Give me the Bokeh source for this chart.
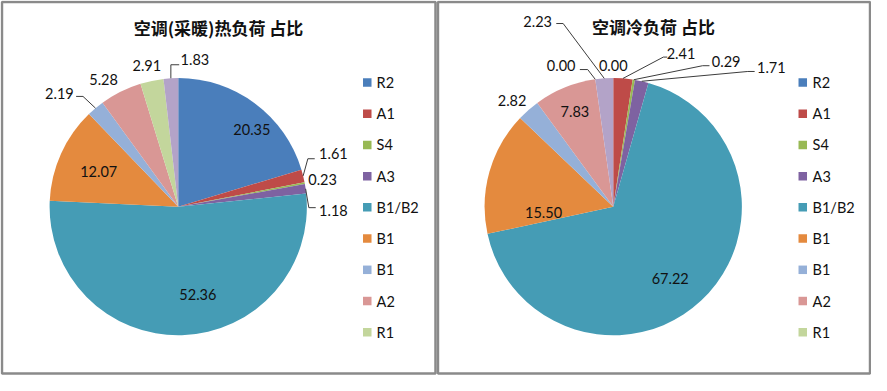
import math
from bokeh.plotting import figure
from bokeh.models import Range1d, ColumnDataSource
from bokeh.core.properties import value
from bokeh.embed import file_html
from bokeh.resources import INLINE

# ---------------- data ----------------
legend_labels = ["R2", "A1", "S4", "A3", "B1/B2", "B1", "B1", "A2", "R1"]
# ten slices each; the tenth slice is not listed in the (truncated) legend
heat_values = [20.35, 1.61, 0.23, 1.18, 52.36, 12.07, 2.19, 5.28, 2.91, 1.83]
cool_values = [0.00, 2.41, 0.29, 1.71, 67.22, 15.50, 2.82, 7.83, 0.00, 2.23]
heat_title = "空调(采暖)热负荷 占比"
cool_title = "空调冷负荷 占比"

# ---------------- styles / layout ----------------
colors = ["#4A7EBB", "#BE4B48", "#98B954", "#7E62A1", "#459CB5",
          "#E48A3E", "#95B0D8", "#D99795", "#C3D69C", "#B3A3C8"]
NUM_FONT = "Lato"
CJK_FONT = "Noto Sans CJK SC"
W, H = 887, 391          # reference picture size (data space)
PW, PH = 871, 375        # figure size in pixels
KY = (PW / W) / (PH / H)  # converts an x-length in data units to y data units


def Y(y):
    return H - y


# label centres and leader-line bend points (picture coordinates)
heat_layout = [
    ((256, 135), None),
    ((339, 160), [(313, 165), (320, 165)]),
    ((328, 187), None),
    ((339, 219), [(314, 216), (321, 216)]),
    ((201, 307), None),
    ((100, 178), None),
    ((60, 97), [(84, 100), (77, 100)]),
    ((105, 82), None),
    ((149, 68), None),
    ((198, 61), [(173.5, 67), (182, 67)]),
]
cool_layout = [
    ((624, 68), None),
    ((693, 55), [(675, 59), (679, 59)]),
    ((739, 64), [(715, 68), (722, 68)]),
    ((785, 70), [(761, 74), (768, 74)]),
    ((682, 290), None),
    ((553, 221), None),
    ((521, 104), None),
    ((585, 116), None),
    ((571, 68), [(598, 72), (590, 72)]),
    ((547, 22), [(573, 24), (566, 24)]),
]

p = figure(width=PW, height=PH, x_range=Range1d(0, W), y_range=Range1d(0, H),
           output_backend="svg", toolbar_location=None, min_border=0)
p.axis.visible = False
p.grid.visible = False
p.outline_line_color = None
p.background_fill_color = "white"
p.border_fill_color = "white"

# panel borders
border = "#8A8A8A"
p.quad(left=[1.5, 445.5], right=[443, 885.5], bottom=[Y(389), Y(389)], top=[Y(1.5), Y(1.5)],
       fill_color=None, line_color=border, line_width=2.5)


def draw_pie(vals, cx, cy, r, layout, title, tx, ty, lx_sq, lx_txt):
    total = sum(vals)
    starts, ends, cols = [], [], []
    mids = []
    cum = 0.0
    for i, v in enumerate(vals):
        a0 = math.pi / 2 - 2 * math.pi * cum / total
        cum += v
        a1 = math.pi / 2 - 2 * math.pi * cum / total
        mids.append((a0 + a1) / 2)
        if v > 0:
            starts.append(a0)
            ends.append(a1)
            cols.append(colors[i])
    src = ColumnDataSource(dict(start=starts, end=ends, color=cols))
    p.wedge(x=cx, y=Y(cy), radius=r, start_angle="start", end_angle="end",
            direction="clock", fill_color="color", line_color=None, source=src)

    # leader lines
    xs, ys = [], []
    for i, (pos, bends) in enumerate(layout):
        if bends is None:
            continue
        ex = cx + r * math.cos(mids[i])
        ey = Y(cy) + r * KY * math.sin(mids[i])
        xs.append([ex] + [b[0] for b in bends])
        ys.append([ey] + [Y(b[1]) for b in bends])
    if xs:
        p.multi_line(xs=xs, ys=ys, line_color="#3C3C3C", line_width=1)

    # data labels
    lsrc = ColumnDataSource(dict(
        x=[pos[0] for pos, _ in layout],
        y=[Y(pos[1]) for pos, _ in layout],
        t=[f"{v:.2f}" for v in vals]))
    p.text(x="x", y="y", text="t", source=lsrc, text_font=value(NUM_FONT),
           text_font_size="14.5px", text_align="center", text_baseline="middle",
           text_color="#111111")

    # title
    p.text(x=[tx], y=[Y(ty)], text=[title], text_font=value(CJK_FONT),
           text_font_size="17px", text_font_style="bold", text_align="center",
           text_baseline="middle", text_color="#111111")

    # legend
    n = len(legend_labels)
    ly = [Y(85.5 + k * 32.55) for k in range(n)]
    p.rect(x=[lx_sq] * n, y=ly, width=8.5, height=8.5, width_units="screen",
           height_units="screen", fill_color=colors[:n], line_color=None)
    p.text(x=[lx_txt] * n, y=ly, text=legend_labels, text_font=value(NUM_FONT),
           text_font_size="14.5px", text_align="left", text_baseline="middle",
           text_color="#111111")


draw_pie(heat_values, 181, 215, 131, heat_layout, heat_title, 222, 28, 373.5, 383)
draw_pie(cool_values, 624, 215, 131, cool_layout, cool_title, 665, 27, 817, 827)

open("out.html", "w").write(file_html(p, INLINE))
